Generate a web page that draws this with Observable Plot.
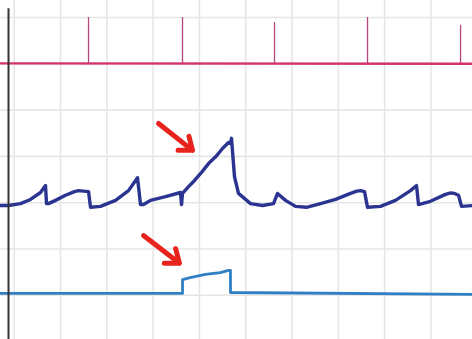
<!DOCTYPE html>
<html>
<head>
<meta charset="utf-8">
<script src="https://cdn.jsdelivr.net/npm/d3@7"></script>
<script src="https://cdn.jsdelivr.net/npm/@observablehq/plot@0.6"></script>
<style>
  html, body { margin: 0; padding: 0; background: #fff; }
  svg { display: block; }
</style>
</head>
<body>
<div id="chart"></div>
<script>
// Time in grid divisions, amplitude in grid divisions
const gridXs = [0, 1, 2, 3, 4, 5, 6, 7, 8, 9];
const gridYs = [1, 2, 3, 4, 5, 6, 7];

// Top trace (magenta): baseline and spikes
const magentaT = [-0.3, 9.95];
const magentaV = [6.01, 6.0];
const spikeT = [1.605, 3.635, 5.622, 7.631, 9.64];
const spikeTop = [7.0, 7.0, 6.89, 7.0, 6.83];
const spikeBase = 6.0;

// Middle trace (dark blue)
const midT = [-0.3, -0.123, 0.136, 0.352, 0.568, 0.676, 0.698, 0.741, 0.892, 1.108, 1.3, 1.389, 1.5, 1.605, 1.648, 1.864, 2.188, 2.469, 2.663, 2.728, 2.793, 2.944, 3.268, 3.592, 3.614, 3.635, 3.75, 3.895, 4.05, 4.219, 4.35, 4.499, 4.628, 4.67, 4.693, 4.758, 4.844, 4.952, 5.104, 5.363, 5.600, 5.687, 5.860, 6.076, 6.313, 6.616, 6.940, 7.264, 7.40, 7.480, 7.566, 7.631, 7.911, 8.235, 8.559, 8.689, 8.732, 8.991, 9.315, 9.43, 9.510, 9.596, 9.661, 9.95];
const midV = [2.94, 2.94, 2.98, 3.07, 3.22, 3.37, 2.98, 2.98, 3.05, 3.16, 3.24, 3.26, 3.25, 3.24, 2.90, 2.92, 3.05, 3.26, 3.54, 2.96, 2.96, 3.05, 3.13, 3.22, 2.96, 3.20, 3.33, 3.48, 3.66, 3.87, 3.99, 4.17, 4.30, 4.28, 4.39, 3.56, 3.20, 3.11, 2.98, 2.94, 2.98, 3.20, 3.05, 2.92, 2.90, 2.98, 3.07, 3.20, 3.25, 3.26, 3.24, 2.90, 2.92, 3.05, 3.26, 3.37, 2.96, 3.03, 3.18, 3.21, 3.20, 3.16, 2.92, 2.94];

// Bottom trace (light blue)
const lowT = [-0.3, -0.123, 3.635, 3.636, 3.8, 4.13, 4.45, 4.628, 4.67, 4.671, 9.95];
const lowV = [1.04, 1.04, 1.04, 1.34, 1.38, 1.45, 1.49, 1.54, 1.54, 1.06, 1.02];

// Red arrows
const arrowX1 = [3.117, 2.793];
const arrowY1 = [4.71, 2.29];
const arrowX2 = [3.851, 3.570];
const arrowY2 = [4.13, 1.69];

const axisX = -0.123;

const chart = Plot.plot({
  width: 472,
  height: 339,
  margin: 0,
  x: { domain: [-0.296, 9.898], axis: null },
  y: { domain: [0.045, 7.367], axis: null },
  marks: [
    Plot.ruleX(gridXs, { stroke: "#e6e6e6", strokeWidth: 1.6 }),
    Plot.ruleY(gridYs, { stroke: "#e6e6e6", strokeWidth: 1.6 }),
    Plot.ruleX(spikeT, { y1: spikeBase, y2: spikeTop, stroke: "#b5487a", strokeWidth: 1.3 }),
    Plot.line(magentaT, { x: magentaT, y: magentaV, stroke: "#d3326f", strokeWidth: 2.4 }),
    Plot.line(midT, { x: midT, y: midV, stroke: "#2b3591", strokeWidth: 3.4, strokeLinejoin: "round" }),
    Plot.line(lowT, { x: lowT, y: lowV, stroke: "#2f7fc4", strokeWidth: 2.8 }),
    Plot.arrow(arrowX1, { x1: arrowX1, y1: arrowY1, x2: arrowX2, y2: arrowY2, stroke: "#e8231e", strokeWidth: 5, headLength: 14, headAngle: 75 }),
    Plot.ruleX([axisX], { y1: 0.045, y2: 7.19, stroke: "#333", strokeWidth: 2 })
  ]
});
document.getElementById("chart").appendChild(chart);
</script>
</body>
</html>
